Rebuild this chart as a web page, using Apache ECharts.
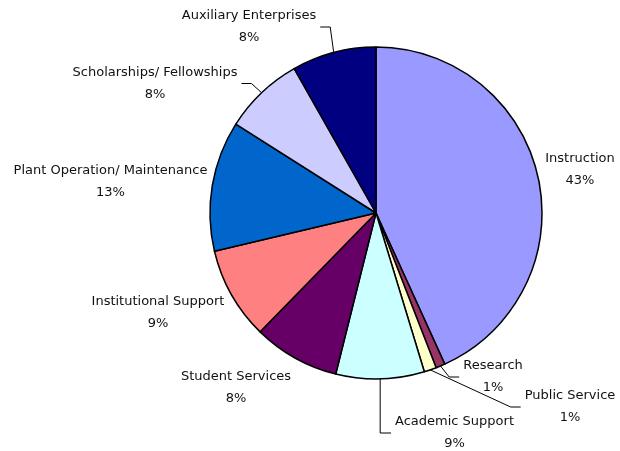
<!DOCTYPE html>
<html>
<head>
<meta charset="utf-8">
<script src="https://cdn.jsdelivr.net/npm/echarts@6/dist/echarts.min.js"></script>
<style>
html,body{margin:0;padding:0;background:#fff;}
#chart{width:620px;height:451px;}
</style>
</head>
<body>
<div id="chart"></div>
<script>
var categories = ['Instruction', 'Research', 'Public Service', 'Academic Support', 'Student Services',
  'Institutional Support', 'Plant Operation/ Maintenance', 'Scholarships/ Fellowships', 'Auxiliary Enterprises'];
var values = [43.2, 0.9, 1.2, 8.6, 8.4, 9.0, 12.7, 7.8, 8.2];
var colors = ['#9999FF', '#993366', '#FFFFCC', '#CCFFFF', '#660066', '#FF8080', '#0066CC', '#CCCCFF', '#000080'];

// label layout (centre of each label block) and which side the leader line attaches to
var labelCenters = [[580, 169.5], [493, 377], [570, 407], [454.5, 433], [236, 387.5],
  [158, 313], [110.5, 181.5], [155, 83.5], [249, 27]];
var leaderSide = [0, -1, -1, -1, 0, 0, 0, 1, 1];

var chart = echarts.init(document.getElementById('chart'), null, {renderer: 'canvas'});
var data = categories.map(function (c, i) {
  return {
    name: c, value: values[i],
    itemStyle: {color: colors[i]},
    labelLine: {show: leaderSide[i] !== 0}
  };
});
chart.setOption({
  animation: false,
  series: [{
    type: 'pie',
    center: [376, 213],
    radius: 166,
    startAngle: 90,
    clockwise: true,
    avoidLabelOverlap: false,
    data: data,
    itemStyle: {borderColor: '#000', borderWidth: 1.5},
    label: {
      show: true,
      position: 'outside',
      fontFamily: 'DejaVu Sans, Liberation Sans, Arial, sans-serif',
      fontSize: 13,
      color: '#111',
      lineHeight: 22,
      align: 'center',
      formatter: function (p) { return p.name + '\n' + Math.round(p.percent) + '%'; }
    },
    labelLine: {show: true, lineStyle: {color: '#000', width: 1}, length: 10, length2: 10},
    labelLayout: function (p) {
      var i = p.dataIndex;
      var c = labelCenters[i];
      var w = p.labelRect.width;
      var res = {x: c[0], y: c[1], align: 'center', verticalAlign: 'middle'};
      var side = leaderSide[i];
      if (side !== 0 && p.labelLinePoints) {
        var start = p.labelLinePoints[0];
        var endX, elbowX;
        if (side === -1) { endX = c[0] - w / 2 - 4; elbowX = endX - 10; }
        else { endX = c[0] + w / 2 + 4; elbowX = endX + 10; }
        var elbowY = c[1];
        if (i === 3) { elbowX = start[0]; endX = c[0] - w / 2 - 4; }
        res.labelLinePoints = [start, [elbowX, elbowY], [endX, c[1]]];
      }
      return res;
    }
  }]
});
</script>
</body>
</html>
